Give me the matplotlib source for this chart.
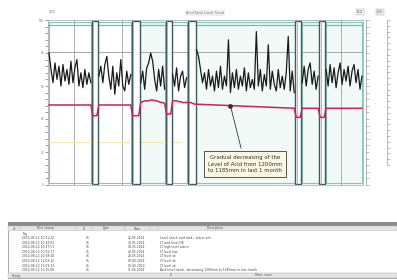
import numpy as np
import matplotlib
matplotlib.use("Agg")
import matplotlib.pyplot as plt
from matplotlib.patches import Rectangle

nan = np.nan
# ---- data -------------------------------------------------------------
acid_trend = [80, 70, 62, 74, 64, 72, 60, 73, 63, 70, 61, 75, 62, 71, 76, 60, 68, 59, 70, 61, 68, 62,
              nan, nan, nan,
              66, 72, 62, 73, 78, 66, 58, 72, 55, 68, 60, 76, 60, 57, 69, 61, 67,
              nan, nan, nan, nan,
              62, 69, 58, 71, 74, 80, 75, 64, 57, 70, 60, 72, 58,
              nan, nan, nan,
              67, 60, 71, 57, 66, 69, 59, 65,
              nan, nan, nan, nan,
              82, 78, 70, 62, 68, 58, 70, 60, 66, 57,
              69, 59, 72, 58, 66, 60, 88, 56, 68, 59,
              70, 58, 66, 60, 71, 57, 68, 59, 64, 58,
              93, 60, 70, 57, 67, 60, 85, 58, 69, 61,
              57, 70, 59, 66, 58, 68, 90, 57, 69, 56,
              nan, nan, nan,
              62, 72, 60, 70, 74, 61, 69, 58, 66,
              nan, nan, nan,
              70, 60, 73, 62, 71, 59, 68, 74, 61, 70, 63, 72, 60, 69, 73, 62, 70, 58, 66]

acid_level = ([48.5] * 22 + [42, 42, 42] + [48.5] * 17 + [42, 42, 42, 42] +
              [50, 50.5, 51, 51, 51, 51.5, 51.5, 51, 51, 50.5, 50, 50, 49.5] + [43, 43, 43] +
              [51, 51, 51, 50.5, 50.5, 50, 50, 50] + [50, 50, 49.5, 49] +
              list(np.linspace(49, 46.5, 50).round(1)) + [41, 41, 41] +
              [46.5] * 9 + [41, 41, 41] + [46.5] * 19)

gap_starts = [21.5, 41.5, 58.5, 69.5, 123.5, 135.5]
gap_ends = [24.5, 45.5, 61.5, 73.5, 126.5, 138.5]
tinted_segments = [2, 4, 5, 6]
high_limit = 97
alarm_level = 80.5
low_limit = 26

note = "Gradual decreasing of the\nLevel of Acid from 1200mm\nto 1185mm in last 1 month"
note_index = 91

table_times = ["2014-06-12 10:41:22", "2014-06-12 10:43:05", "2014-06-12 10:47:51",
               "2014-06-12 10:52:17", "2014-06-12 10:58:40", "2014-06-12 11:03:12",
               "2014-06-12 11:09:33", "2014-06-12 11:15:06"]
table_codes = ["01", "01", "01", "01", "01", "01", "01", "01"]
table_dates = ["12.05.2014", "14.05.2014", "19.05.2014", "23.05.2014",
               "28.05.2014", "02.06.2014", "06.06.2014", "11.06.2014"]
table_desc = ["Level check acid tank - alarm ack",
              "LT acid level OK",
              "LT high level alarm",
              "LT level low",
              "LT level ok",
              "LT level ok",
              "LT level ok",
              "Acid level trend - decreasing 1200mm to 1185mm in last month"]

# ---- figure -----------------------------------------------------------
W, H = 397, 280
fig = plt.figure(figsize=(W / 100, H / 100), dpi=100)
fig.patch.set_facecolor("white")

def fx(px):
    return px / W

def fy(py):
    return 1 - py / H

ax = fig.add_axes([fx(48), fy(185), fx(363) - fx(48), fy(20) - fy(185)])
x = np.arange(len(acid_trend))
ax.set_xlim(-0.5, len(acid_trend) - 0.5)
ax.set_ylim(0, 100)
ax.set_facecolor("white")

seg_edges = [-0.5] + [v for pair in zip(gap_starts, gap_ends) for v in pair] + [len(acid_trend) - 0.5]
segments = list(zip(seg_edges[0::2], seg_edges[1::2]))
for k, (s, e) in enumerate(segments):
    if k in tinted_segments:
        ax.add_patch(Rectangle((s, 0), e - s, 100, facecolor="#f2faf7",
                               edgecolor="none", zorder=0))
    ax.add_patch(Rectangle((s + 0.3, 1), e - s - 0.6, 98, facecolor="none",
                           edgecolor="#7fc8bc", lw=0.8, zorder=1))

# gap frames
for s, e in zip(gap_starts, gap_ends):
    ax.add_patch(Rectangle((s, 0.5), e - s, 99, facecolor="white",
                           edgecolor="#3f5c62", lw=1.0, zorder=3))
    ax.axvline(s + 0.7, color="#8aa7ad", lw=0.5, zorder=3)

ax.axhline(high_limit, color="#6fbfae", lw=0.9, zorder=2)
ax.axhline(alarm_level, color="#9a9a9a", lw=0.6, zorder=2)
ax.axhline(low_limit, color="#f3e6b0", lw=0.8, xmax=0.42, zorder=2)
for xv in [12.5, 36.5, 146.5]:
    ax.axvline(xv, color="#a0a0a0", lw=0.6, zorder=1)

ax.plot(x, acid_trend, color="#1a1a1a", lw=0.9, zorder=4)
ax.plot(x, acid_level, color="#d4204f", lw=1.1, zorder=5)

ax.tick_params(axis="y", direction="out", length=2, width=0.5, labelsize=2,
               colors="#777777", pad=1)
ax.set_yticks(np.arange(0, 101, 4))
ax.set_yticklabels(["" if v % 20 else str(v) for v in range(0, 101, 4)])
ax.set_xticks([])
for sp in ax.spines.values():
    sp.set_color("#9aa5a8")
    sp.set_linewidth(0.5)

# annotation
ax.plot([note_index], [acid_level[note_index]], "o", color="#303030", ms=2.4, zorder=6)
ax.annotate(note, xy=(note_index, acid_level[note_index]),
            xytext=(fx(245), fy(164)), textcoords="figure fraction",
            fontsize=3.9, ha="center", va="center", color="#333333",
            linespacing=1.35, zorder=7,
            bbox=dict(boxstyle="square,pad=0.7", fc="#fbf7e2", ec="#555555", lw=0.7),
            arrowprops=dict(arrowstyle="-", color="#333333", lw=0.6))

# right side scales
for px, top, bot in [(366, 20, 185), (387, 20, 165)]:
    rax = fig.add_axes([fx(px), fy(bot), 0.001, fy(top) - fy(bot)])
    rax.set_ylim(0, 100)
    rax.set_xticks([])
    rax.yaxis.tick_right()
    rax.set_yticks(np.arange(0, 101, 4))
    rax.set_yticklabels([])
    rax.tick_params(axis="y", length=2.5, width=0.4, colors="#8a8a8a")
    for name, sp in rax.spines.items():
        sp.set_visible(name == "left")
        sp.set_color("#9a9a9a")
        sp.set_linewidth(0.5)
fig.text(fx(375), fy(103), "-", fontsize=3, color="#777777", va="center")

fig.text(fx(49), fy(12), "100", fontsize=2.5, color="#666666", va="center")
fig.text(fx(205), fy(13), "Acid Tank Level Trend", fontsize=2.5, color="#777777",
         ha="center", va="center",
         bbox=dict(boxstyle="square,pad=0.3", fc="#efefef", ec="none"))
fig.text(fx(360), fy(12), "0.0", fontsize=2.6, color="#555555", ha="center", va="center",
         bbox=dict(boxstyle="square,pad=0.2", fc="#eeeeee", ec="#aaaaaa", lw=0.3))
fig.text(fx(380), fy(12), "0.0", fontsize=2.6, color="#555555", ha="center", va="center",
         bbox=dict(boxstyle="square,pad=0.2", fc="#eeeeee", ec="#aaaaaa", lw=0.3))

# ---- bottom table window ----------------------------------------------
def frect(x0, y0, x1, y1, **kw):
    fig.add_artist(Rectangle((fx(x0), fy(y1)), fx(x1) - fx(x0), fy(y0) - fy(y1),
                             transform=fig.transFigure, **kw))

frect(8, 222, 397, 278, facecolor="#fafafa", edgecolor="#9a9a9a", lw=0.6)
frect(8, 222, 397, 226, facecolor="#8c8c8c", edgecolor="none")
frect(8, 226, 397, 231, facecolor="#e4e4e4", edgecolor="#b0b0b0", lw=0.3)
frect(8, 273, 397, 278, facecolor="#e4e4e4", edgecolor="#b0b0b0", lw=0.3)
frect(10, 231, 397, 272, facecolor="white", edgecolor="none")
for px in [20, 76, 92, 125, 150, 158]:
    fig.add_artist(plt.Line2D([fx(px), fx(px)], [fy(226), fy(231)],
                              transform=fig.transFigure, color="#b0b0b0", lw=0.3))
headers = [(14, "#"), (45, "Time stamp"), (84, "ID"), (105, "Type"), (137, "Date"),
           (215, "Description")]
for px, t in headers:
    fig.text(fx(px), fy(228.5), t, fontsize=2.2, color="#555555", ha="center", va="center")
fig.text(fx(22), fy(234), "Tag", fontsize=2.2, color="#555555", va="center")
for i in range(len(table_times)):
    yy = fy(238 + i * 4.6)
    fig.text(fx(22), yy, table_times[i], fontsize=2.2, color="#444444", va="center")
    fig.text(fx(88), yy, table_codes[i], fontsize=2.2, color="#444444", va="center", ha="center")
    fig.text(fx(128), yy, table_dates[i], fontsize=2.2, color="#444444", va="center")
    fig.text(fx(160), yy, table_desc[i], fontsize=2.2, color="#444444", va="center")
fig.text(fx(12), fy(275.5), "Ready", fontsize=2.2, color="#555555", va="center")
fig.text(fx(170), fy(275.5), "8", fontsize=2.2, color="#555555", va="center")
fig.text(fx(255), fy(275.5), "Filter: none", fontsize=2.2, color="#555555", va="center")

fig.savefig("out.png", dpi=100, facecolor="white")
